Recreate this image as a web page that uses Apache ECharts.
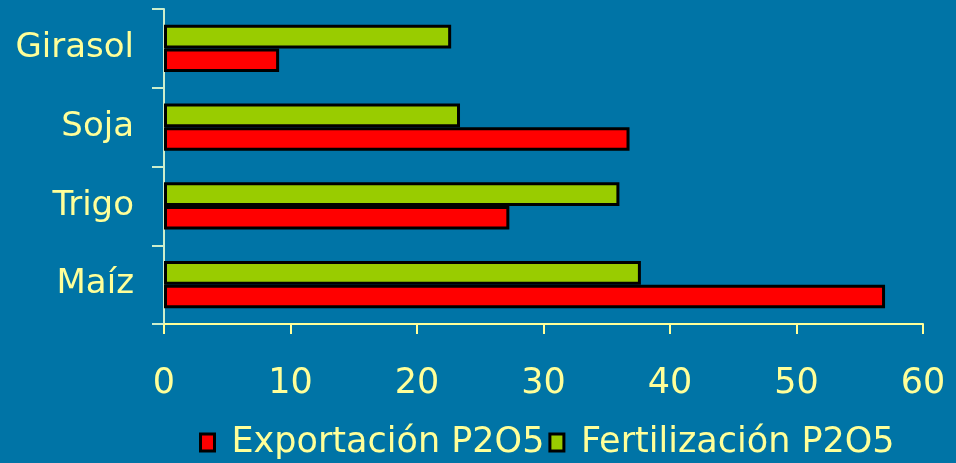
<!DOCTYPE html>
<html>
<head>
<meta charset="utf-8">
<script src="https://cdn.jsdelivr.net/npm/echarts@6/dist/echarts.min.js"></script>
<style>
html,body{margin:0;padding:0;background:#0074A6;}
#chart{width:956px;height:463px;}
</style>
</head>
<body>
<div id="chart"></div>
<script>
const categories = ['Maíz', 'Trigo', 'Soja', 'Girasol'];
const exportacion = [57.0, 27.3, 36.8, 9.1];
const fertilizacion = [37.7, 36.0, 23.4, 22.7];
const xTicks = [0, 60, 10];
const seriesNames = ['Exportación P2O5', 'Fertilización P2O5'];

const font = 'DejaVu Sans';
const txt = '#FFFF99';
const chart = echarts.init(document.getElementById('chart'));
chart.setOption({
  backgroundColor: '#0074A6',
  animation: false,
  grid: {left: 164, right: 33, top: 9, bottom: 139, containLabel: false},
  legend: {
    data: seriesNames,
    left: 194, top: 420,
    itemWidth: 14, itemHeight: 17, itemGap: 4,
    icon: 'rect',
    itemStyle: {borderColor: '#000000', borderWidth: 3},
    textStyle: {color: txt, fontFamily: font, fontSize: 35, padding: [0, 0, 0, 12]}
  },
  xAxis: {
    type: 'value', min: xTicks[0], max: xTicks[1], interval: xTicks[2],
    axisLine: {show: true, lineStyle: {color: '#FFFF99', width: 2}},
    axisTick: {show: true, length: 10, lineStyle: {color: '#FFFF99', width: 2}},
    splitLine: {show: false},
    axisLabel: {color: txt, fontFamily: font, fontSize: 35, margin: 42}
  },
  yAxis: {
    type: 'category', data: categories,
    axisLine: {show: true, lineStyle: {color: '#CCEECC', width: 2}},
    axisTick: {show: true, length: 12, lineStyle: {color: '#CCEECC', width: 2}},
    axisLabel: {color: txt, fontFamily: font, fontSize: 34, margin: 30}
  },
  series: [
    {name: seriesNames[1], type: 'bar', data: fertilizacion, barGap: '0%', barCategoryGap: '40%',
     itemStyle: {color: '#99CC00', borderColor: '#000000', borderWidth: 3}},
    {name: seriesNames[0], type: 'bar', data: exportacion, barGap: '0%', barCategoryGap: '40%',
     itemStyle: {color: '#FF0000', borderColor: '#000000', borderWidth: 3}}
  ]
});
</script>
</body>
</html>
